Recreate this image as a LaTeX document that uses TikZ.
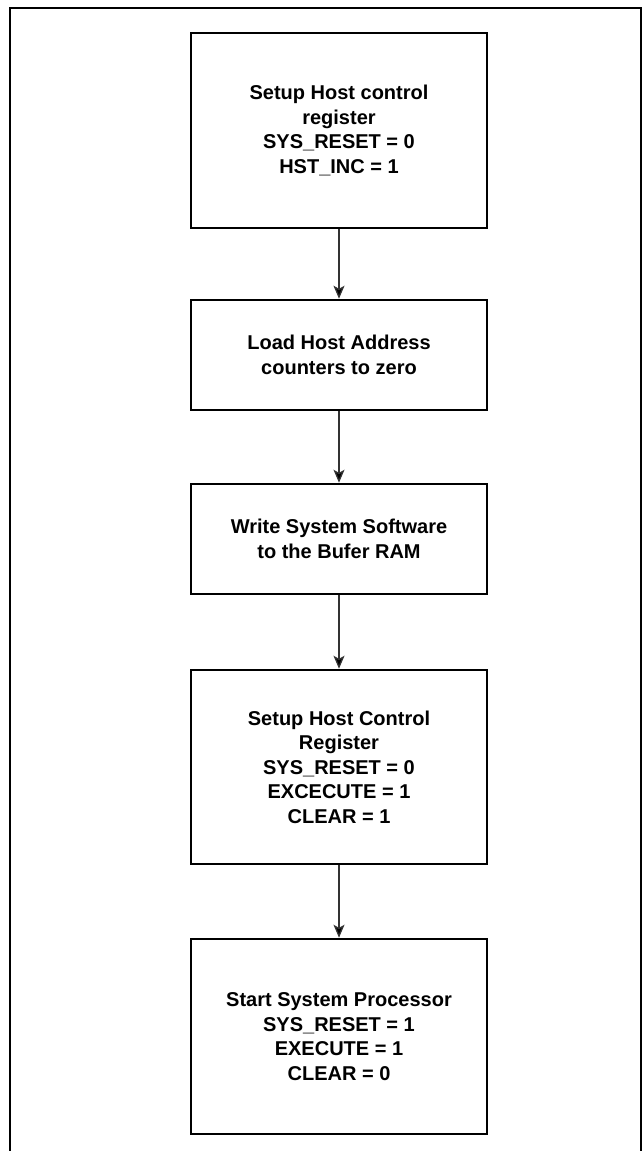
\documentclass[tikz,border=0pt]{standalone}
\usepackage{fontspec}
\setmainfont{Liberation Sans}
\usetikzlibrary{arrows.meta}

\begin{document}
\begin{tikzpicture}[x=1pt, y=-1pt,
  stage/.style={rectangle, draw, line width=2.5pt, minimum width=296pt, inner sep=0pt,
    align=center, font=\bfseries\fontsize{20}{24.5}\selectfont},
  flow/.style={-{Stealth[length=13pt, width=11pt, inset=3pt]}, line width=1.3pt, draw=black!80}]

\useasboundingbox (0,0) rectangle (643,1151);

% frame, open at the bottom
\draw[line width=2.5pt] (10,1151) -- (10,8) -- (641,8) -- (641,1151);

\node[stage, minimum height=195pt] (setup) at (339,130.5) {Setup Host control\\register\\SYS\_RESET = 0\\HST\_INC = 1};
\node[stage, minimum height=110pt] (load) at (339,355) {Load Host Address\\counters to zero};
\node[stage, minimum height=110pt] (write) at (339,539) {Write System Software\\to the Bufer RAM};
\node[stage, minimum height=194pt] (ctrl) at (339,767) {Setup Host Control\\Register\\SYS\_RESET = 0\\EXCECUTE = 1\\CLEAR = 1};
\node[stage, minimum height=195pt] (start) at (339,1036.5) {Start System Processor\\SYS\_RESET = 1\\EXECUTE = 1\\CLEAR = 0};

\path[flow] (setup) edge (load);
\path[flow] (load) edge (write);
\path[flow] (write) edge (ctrl);
\path[flow] (ctrl) edge (start);

\end{tikzpicture}
\end{document}
